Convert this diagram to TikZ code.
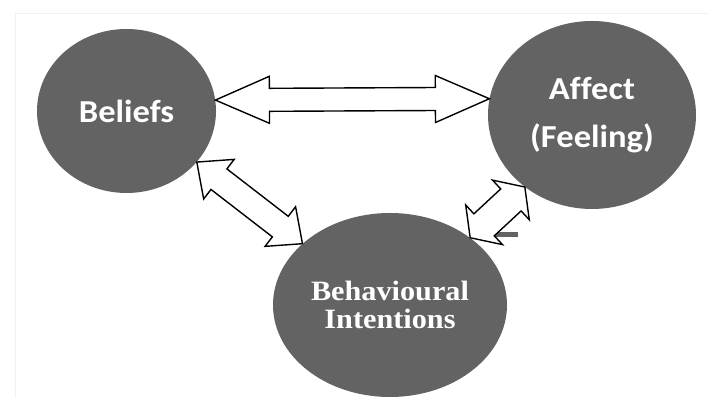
\documentclass[tikz,border=0pt]{standalone}
\usepackage{fontspec}
\newfontfamily\calibfont[FakeStretch=1.08, Ligatures=NoCommon]{Carlito}
\newfontfamily\timesfont[FakeStretch=1.08]{Liberation Serif}
\usetikzlibrary{calc}
\usetikzlibrary{shapes.geometric}

\definecolor{bubblegray}{RGB}{99,99,99}

% two-headed block arrow: from, to, shaft half width, head half width, head length
\newcommand\dualarrow[5]{%
  \coordinate (ha) at ($(#1)!#5!(#2)$);
  \coordinate (hb) at ($(#2)!#5!(#1)$);
  \draw[fatarrow] (#1) -- ($(ha)!#4!90:(#2)$) -- ($(ha)!#3!90:(#2)$)
    -- ($(hb)!#3!-90:(#1)$) -- ($(hb)!#4!-90:(#1)$) -- (#2)
    -- ($(hb)!#4!90:(#1)$) -- ($(hb)!#3!90:(#1)$)
    -- ($(ha)!#3!-90:(#2)$) -- ($(ha)!#4!-90:(#2)$) -- cycle;
}

\begin{document}
\begin{tikzpicture}[x=1pt, y=1pt,
  bubble/.style={ellipse, fill=bubblegray, text=white, inner sep=0pt, align=center},
  fatarrow/.style={draw=black, fill=white, line width=1.4pt, line join=miter}]
\useasboundingbox (0,0) rectangle (709,398);
\fill[white] (0,0) rectangle (709,398);
\draw[gray!12, thin] (709,385) -- (15,385) -- (15,0);

\node[bubble, minimum width=179pt, minimum height=164pt,
  font=\calibfont\bfseries\fontsize{32}{48}\selectfont] (beliefs) at (126.5,287) {Beliefs};
\node[bubble, minimum width=208pt, minimum height=188pt,
  font=\calibfont\bfseries\fontsize{32}{48}\selectfont] (affect) at (592,283) {Affect\\(Feeling)};
\node[bubble, minimum width=234pt, minimum height=184pt,
  font=\timesfont\bfseries\fontsize{28}{28}\selectfont] (intent) at (390,93) {Behavioural\\Intentions};

% stray mark next to the right arrow
\fill[bubblegray] (490,161) rectangle (518,166);

\dualarrow{beliefs.7}{affect.171}{11.5pt}{23.5pt}{54pt}
\dualarrow{beliefs.324}{intent.145}{13pt}{25pt}{28pt}
\dualarrow{intent.40}{affect.227}{15pt}{27pt}{19pt}
\end{tikzpicture}
\end{document}
